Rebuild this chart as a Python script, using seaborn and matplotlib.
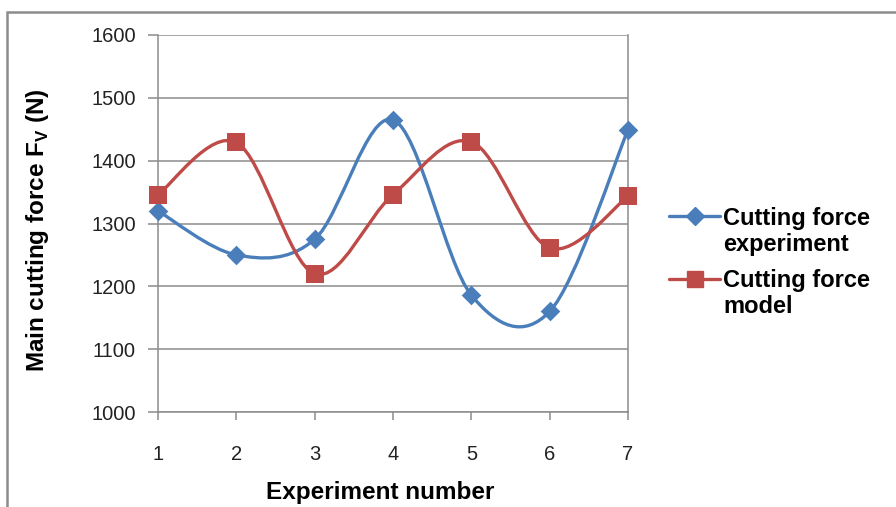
import numpy as np
import pandas as pd
import matplotlib
matplotlib.use("Agg")
import matplotlib.pyplot as plt
from matplotlib.path import Path
from matplotlib.patches import PathPatch, Rectangle
from matplotlib.lines import Line2D
import seaborn as sns

# Experiment data
experiments = [1, 2, 3, 4, 5, 6, 7]
force_experiment = [1320, 1250, 1275, 1465, 1186, 1160, 1449]
force_model = [1346, 1429, 1220, 1346, 1430, 1261, 1343]
series_names = ["Cutting force\nexperiment", "Cutting force\nmodel"]
y_ticks = [1000, 1100, 1200, 1300, 1400, 1500, 1600]

BLUE = "#4A7EBB"
RED = "#BE4B48"
GRID = "#8C8C8C"
W, H = 896, 507

sns.set_theme(style="white")
plt.rcParams["font.family"] = ["Liberation Sans", "DejaVu Sans"]
plt.rcParams["mathtext.fontset"] = "custom"
plt.rcParams["mathtext.rm"] = "Liberation Sans:bold"
plt.rcParams["mathtext.bf"] = "Liberation Sans:bold"

fig = plt.figure(figsize=(W / 100, H / 100), dpi=100)
ax = fig.add_axes([158 / W, 1 - 412 / H, 470 / W, 377 / H])


def smooth_path(xs, ys):
    """Cubic Bezier through the points (Catmull-Rom style control points)."""
    pts = np.column_stack([xs, ys]).astype(float)
    ext = np.vstack([pts[0], pts, pts[-1]])
    verts = [pts[0]]
    codes = [Path.MOVETO]
    for i in range(len(pts) - 1):
        p0, p1, p2, p3 = ext[i], ext[i + 1], ext[i + 2], ext[i + 3]
        c1 = p1 + (p2 - p0) / 6.0
        c2 = p2 - (p3 - p1) / 6.0
        verts += [c1, c2, p2]
        codes += [Path.CURVE4] * 3
    return Path(verts, codes)


df = pd.DataFrame({
    "Experiment": experiments * 2,
    "Force": force_experiment + force_model,
    "Series": [series_names[0]] * 7 + [series_names[1]] * 7,
})

for vals, color in [(force_experiment, BLUE), (force_model, RED)]:
    ax.add_patch(PathPatch(smooth_path(experiments, vals), facecolor="none",
                           edgecolor=color, lw=2.4, zorder=3,
                           capstyle="round", joinstyle="round"))

sns.scatterplot(data=df[df.Series == series_names[0]], x="Experiment", y="Force",
                color=BLUE, marker="D", s=100, edgecolor=BLUE, linewidth=0,
                ax=ax, zorder=4, legend=False, clip_on=False)
sns.scatterplot(data=df[df.Series == series_names[1]], x="Experiment", y="Force",
                color=RED, marker="s", s=150, edgecolor=RED, linewidth=0,
                ax=ax, zorder=4, legend=False, clip_on=False)

ax.set_xlim(1, 7)
ax.set_ylim(1000, 1600)
ax.set_xticks(experiments)
ax.set_yticks(y_ticks)
ax.yaxis.grid(True, color=GRID, lw=1.1)
ax.xaxis.grid(False)
for side in ["left", "bottom", "right"]:
    ax.spines[side].set_visible(True)
    ax.spines[side].set_color(GRID)
    ax.spines[side].set_linewidth(1.1)
ax.spines["top"].set_visible(False)
ax.tick_params(axis="x", direction="out", length=6, width=1.1, color=GRID,
               pad=18, labelsize=14.5, labelcolor="#222222", bottom=True)
ax.tick_params(axis="y", direction="out", length=7, width=1.1, color=GRID,
               pad=9, labelsize=14.5, labelcolor="#222222", left=True)

ax.set_xlabel("Experiment number", fontsize=17.5, fontweight="bold", color="black")
ax.set_ylabel(r"Main cutting force F$_\mathregular{V}$ (N)", fontsize=17.5,
              fontweight="bold", color="black")
ax.xaxis.set_label_coords(0.472, -0.182)
ax.yaxis.set_label_coords(-0.228, 0.483)

# Legend: handle on the first line of each two-line label
legend_rows = [
    (BLUE, "D", 9, 216, [225, 251]),
    (RED, "s", 12, 279, [287, 313]),
]
for (color, mk, ms, hy, baselines), name in zip(legend_rows, series_names):
    fig.add_artist(Line2D([669 / W, 720 / W], [1 - hy / H] * 2,
                          transform=fig.transFigure, color=color, lw=2.4))
    fig.add_artist(Line2D([694.5 / W], [1 - hy / H], transform=fig.transFigure,
                          color=color, marker=mk, markersize=ms, lw=0))
    for line, by in zip(name.split("\n"), baselines):
        fig.text(723 / W, 1 - by / H, line, fontsize=17, fontweight="bold",
                 color="black", ha="left", va="baseline")

# Outer chart frame
fig.add_artist(Rectangle((7 / W, -0.2), 1.2, 1.2 - 12 / H,
                         transform=fig.transFigure, fill=False,
                         edgecolor="#8C8C8C", lw=1.8, clip_on=False))

fig.savefig("out.png", dpi=100)
